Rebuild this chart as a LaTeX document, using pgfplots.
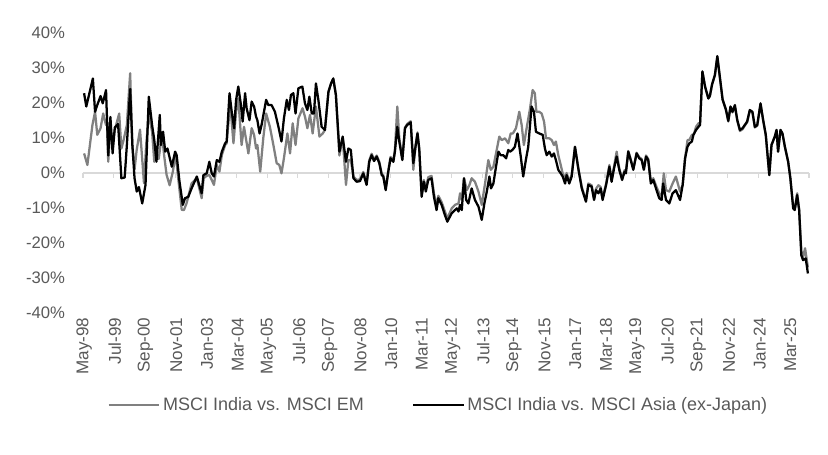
\documentclass[border=0pt]{standalone}
\usepackage{fontspec}
\setmainfont{Liberation Sans}
\usepackage{pgfplots}
\usepackage{pgfplotstable}
\pgfplotsset{compat=1.18}
\definecolor{txt}{HTML}{595959}
\definecolor{emgray}{HTML}{808080}
\definecolor{axgray}{HTML}{D9D9D9}

\pgfplotstableread{
m v
0 22.8
1 19
4 27
5 17.5
6 19.4
7.5 22
8.5 19.9
10 23.7
11 5
12 16
13 5.6
14 13
15.5 14
17 -1.5
18.5 -1.3
19.5 8
21 24
22 8
23 -1.5
24 -5.3
25 -4
26.5 -8.7
28 -3.4
29.5 21.8
31 13.7
32 9.4
33 3.2
34.5 16.6
35 8
36 11.8
37 6.1
38 7
40 1.8
41.5 6.1
42.2 5.1
43.5 -2.5
45 -9.1
46 -7.2
47.5 -6.8
49 -4.4
51.4 -1
53.6 -5.8
54.4 -0.6
55.9 -0.1
57.1 3.2
58.2 -0.1
59.2 -1
60.5 3.7
61.7 3.2
62.8 6.1
64.3 8.5
65 9
66.3 22.8
67.3 17.5
68.4 12.8
69.3 20.9
70.3 24.7
71.4 19.9
72.3 14.7
73.4 22.8
74.1 18.5
75.4 15.1
76.4 20.4
77.5 19
78.4 16.1
79 15.1
80 11.3
81 14
83 20.9
84 19.4
85.5 19.4
87 17.5
88.6 13.2
90 9
91.1 15.6
92.4 20.9
93.4 18
94.3 22.3
95.4 22.8
96.4 17
97.7 24.2
99.5 24.7
100.7 19.9
101.8 18
102.7 21.8
103.8 17
104.8 17
105.7 25.6
106.8 20.9
108.3 13.2
109.8 12.3
111.4 23.2
112.6 25.6
113.6 27
114.8 22.3
116.4 6.1
117.9 10.4
119.4 3.2
120.5 7
121.6 6.6
122.8 -1.5
124.3 -2.5
125.8 -2.3
127.3 -0.1
128.8 -3.4
130 3.2
131.1 5.1
132.2 3.4
133.4 4.7
134.6 2.8
135.7 -0.6
136.4 -1
137.5 -4.9
138.7 0.4
139.7 4.2
141 3.2
141.7 6.1
142.8 13.2
143.7 9
145.1 3.7
146.3 12.8
147.3 13.7
148.9 14.5
150.1 2.8
151.1 7.5
152 11.3
152.8 7
153.9 -6.8
154.9 -2.5
155.8 -5.3
156.9 -2
158.4 -1.5
159.5 -6.8
160.7 -10.6
161.5 -7.2
163 -9.1
164.5 -12
165.6 -13.9
167.6 -11.5
169.1 -10.6
169.9 -10.1
170.7 -11
171.4 -9.1
172.2 -10.6
173.2 -1.5
174.2 -7.7
175.2 -8.7
176.7 -4.4
178.2 -7.7
179.8 -9.6
181.3 -13.4
182.5 -8.7
183.6 -5.3
184.8 -1
185.5 -4.4
186.6 -3
187.8 1.8
188.9 6.1
189.9 5.1
191.1 5.1
192.4 4.2
193.4 6.6
194.2 6.1
195.3 6.6
196.4 7.5
197.6 11.3
199 5.1
200.2 -1
201.4 3.7
202.5 7.5
204 19
205.1 17.5
206 11.8
207.5 11.3
209.1 10.9
210.1 7
210.9 5.1
212.1 6.1
213.2 4.7
214.2 5.6
215.1 3.7
216.2 0.9
217.3 -0.1
218.2 -1
219.3 -3
220 -0.6
221.2 -3
222.3 -1
223.8 7.5
225.3 1.3
226.9 -4.4
228.8 -8.2
229.9 -3.4
231.4 -3.9
232.5 -7.7
233.4 -4.9
234.5 -5.8
235.5 -4.4
236.4 -7.7
238 -3.4
239.5 1.8
240.5 -2.5
241.6 1.3
242.8 4.7
244 0.9
245.3 -2
246.4 0.4
247 -0.1
248.1 6.1
249.2 3.7
250.4 0.9
251.9 5.6
253.1 4.2
254.2 3.7
255.2 0.9
256.2 4.7
257.2 3.7
258.4 -3
259.5 -2
261 -4.9
262.2 -7.2
263.3 -7.7
264 -3
265.3 -7.7
266.8 -8.7
268.3 -5.8
269.8 -4.9
271.7 -7.7
272.9 -3.4
274 4.2
275.1 7.5
276 8.5
277.1 9
277.8 10.9
279 12.3
280.1 13.2
280.8 13.7
281.9 29
283.1 24.7
284.6 21.3
285.3 22
286.3 25.3
287.6 28
288.7 33.4
289.9 27.2
291.1 21
292.6 18.2
293.7 14.9
294.7 19
295.6 17.5
296.7 19.4
297.8 15.1
299 12.3
300.2 12.8
301.2 13.7
302.3 14.7
303.5 18
304.7 17.5
305.8 13.2
306.9 13.7
308.4 19.9
309.6 15.1
310.8 10.9
312.4 -0.6
313.4 8
314.9 10.4
315.7 12.3
316.4 6.1
317.5 12.3
318.4 11.3
319.5 7.5
321 3.2
322 -1.5
323.3 -10.1
324 -10.6
325.1 -6.3
326 -10.6
327 -23.5
327.8 -24.9
329 -24.4
330 -28.7
}\asia

\pgfplotstableread{
m v
0 5.6
1.5 2.3
3.8 13.7
5 17.5
6 10.9
7.5 12.8
8.7 17
10 13.7
10.5 14.2
11 3.2
12 12.8
13 8
14 12.3
16 17
17 7
18 9.4
19.5 13.7
21 28.5
22 8
23 1
24 6.7
25.5 12.4
27.3 -2.9
28.3 8
29.5 17
31 11.8
32 3.2
33 5.1
34 4
35.5 11
36.5 5
37.6 -0.5
39 -3.5
40.5 0.5
41.7 5.5
43 -2
44.5 -10.5
45.5 -10.6
46.7 -8.7
49 -3
51.4 -1.5
53.6 -7.2
54.5 -1.5
55.9 -0.8
57.1 -0.6
58.2 -2
59.2 -3.4
60.5 2.3
61.7 0.4
62.8 5.1
64.3 8
65 8.5
66.6 19.9
68.1 8.5
69.3 17.5
70.3 21.3
71.8 8
72.9 13.2
74.9 5.6
76.4 12.8
77.5 10.9
78.4 7
79 8
80.3 0.4
81.7 10
83 17
84.7 13.2
86.3 8
87.8 2.8
89 2.3
90 -0.1
91.1 4.2
92.7 11.3
93.9 5.6
95.1 14.2
96.4 8
97.7 15.6
99.6 18.5
100.7 16.1
101.8 12.8
103 16.6
104.2 11.3
105.7 19
107.3 10.4
108.8 11.3
109.8 12.3
111.4 23.2
112.6 25.6
113.6 27
114.8 22.3
116.4 5
117.9 10
119.4 -3.4
120.5 3.7
121.6 3.7
122.8 -1
124.3 -2
125.8 -1.8
127.3 0.3
128.8 -3
130 3.6
131.1 5.5
132.2 3.8
133.4 5
134.6 3.2
135.7 -0.2
136.4 -0.6
137.5 -4.5
138.7 0.8
139.7 4.6
141 3.6
141.7 6.5
142.8 19
143.7 10
145.1 4
146.3 13
147.3 14
148.9 14.8
150.1 0.9
151.1 7.8
152 11.6
152.8 6.5
153.9 -6
154.9 -2
155.8 -4.5
156.9 -1.2
158.4 -0.8
159.5 -5.8
160.7 -9.5
161.5 -6.5
163 -8.3
164.5 -11
165.6 -13
167.6 -10.1
169.1 -9.1
170.7 -8.7
171.4 -5.8
172.2 -7.7
173.2 -1.5
174.5 -4.9
175.7 -3.4
176.7 -1.5
178.2 -2.5
179.8 -5.3
181.3 -9.1
182.8 -3
184.3 3.7
185.4 0.9
186.6 1.8
187.8 5.6
189.3 10.4
190.4 9.4
191.9 9.9
193.4 8.5
194.5 11.3
195.5 11.3
196.9 12.8
198.4 17.5
199.5 13.7
200.5 8
202 13.7
203.2 18
204.5 23.7
205.5 22.8
206.2 17.5
207.5 17.5
208.6 17
209.7 14.7
210.6 9.9
212.1 9.9
213.2 9.4
214.2 8
215.1 9
216.2 5.1
217.3 2.3
218.2 -0.1
219.3 -1.5
220 0
221.2 -2.5
222.3 -0.5
223.8 7.5
225.3 1.5
226.9 -4
228.8 -7.8
229.9 -3
231.4 -3.5
232.5 -7.2
233.4 -4.5
234.5 -3.5
235.5 -4
236.4 -7
238 -3
239.5 2.3
240.5 -2
241.6 1.8
242.8 6.1
244 1.3
245.3 -1.6
246.4 0.8
247 0.3
248.1 6.3
249.2 4
250.4 1.2
251.9 5.8
253.1 4.5
254.2 4
255.2 1.2
256.2 5
257.2 4
258.4 -2.5
259.5 -1.5
261 -4
262.2 -5.8
263.3 -6.7
264.3 -0.1
265.3 -4.9
266.8 -5.3
268.3 -3
269.8 -1
271.7 -5.3
272.9 -3.4
274 4.2
275.1 9.4
276 9.5
277.1 10.9
278 11
279 13.2
280.1 14.2
280.8 13.7
281.9 29
283.1 24.7
284.6 21.3
285.3 22
286.3 25.3
287.6 28
288.7 33.2
289.9 27
291.1 21
292.6 18
293.7 14.7
294.7 18.8
295.6 17.3
296.7 19.2
297.8 15
299 12
300.2 12.5
301.2 13.5
302.3 14.5
303.5 17.8
304.7 17.3
305.8 13
306.9 13.5
308.4 19.7
309.6 15
310.8 10.7
312.4 -0.6
313.4 8
314.9 10.4
315.7 12.3
316.4 6.1
317.5 12.3
318.4 11.3
319.5 7.5
321 3.2
322 -1.5
323.3 -9.8
324 -10.3
325.1 -5.8
326 -10.3
327 -22.5
327.8 -24
328.7 -21.5
330 -27
}\em

\begin{document}
\begin{tikzpicture}[x=1pt,y=1pt]
\path[use as bounding box] (-62.25,-105.75) rectangle (558.75,234.75);
\begin{axis}[
  at={(0,0)}, anchor=south west,
  scale only axis, width=544.5pt, height=210pt,
  xmin=-0.5, xmax=330.5, ymin=-40, ymax=40,
  axis line style={draw=none},
  major tick length=0pt,
  tick style={draw=none},
  ytick={-40,-30,-20,-10,0,10,20,30,40},
  yticklabels={-40\%,-30\%,-20\%,-10\%,0\%,10\%,20\%,30\%,40\%},
  xtick={0,14,28,42,56,70,84,98,112,126,140,154,168,182,196,210,224,238,252,266,280,294,308,322},
  xticklabels={May-98,Jul-99,Sep-00,Nov-01,Jan-03,Mar-04,May-05,Jul-06,Sep-07,Nov-08,Jan-10,Mar-11,May-12,Jul-13,Sep-14,Nov-15,Jan-17,Mar-18,May-19,Jul-20,Sep-21,Nov-22,Jan-24,Mar-25},
  x tick label style={rotate=90, anchor=east, font=\fontsize{12.8}{15}\selectfont, text=txt},
  y tick label style={font=\fontsize{12.5}{15}\selectfont, text=txt, xshift=-10pt},
  clip=false,
  legend columns=2,
  legend style={at={(0.49,-0.329)}, anchor=center, draw=none, fill=none,
    font=\fontsize{13.5}{16}\selectfont, text=txt,
    /tikz/every even column/.append style={column sep=34pt}},
  legend image code/.code={\draw[#1] (0pt,0pt) -- (38pt,0pt);},
]
\draw[axgray, line width=1.1pt] (axis cs:-0.5,0) -- (axis cs:330.5,0);
\pgfplotsinvokeforeach{0,...,23}{
  \draw[axgray, line width=0.8pt] (axis cs:{-0.5+14*#1},0) -- ++(0pt,-4pt);
}
\draw[axgray, line width=0.8pt] (axis cs:330.5,0) -- ++(0pt,-4pt);
\addplot[emgray, line width=1.7pt, line join=round] table[x=m, y=v] {\em};
\addlegendentry{MSCI India vs. MSCI EM}
\addplot[black, line width=1.7pt, line join=round] table[x=m, y=v] {\asia};
\addlegendentry{MSCI India vs. MSCI Asia (ex-Japan)}
\end{axis}
\end{tikzpicture}
\end{document}
